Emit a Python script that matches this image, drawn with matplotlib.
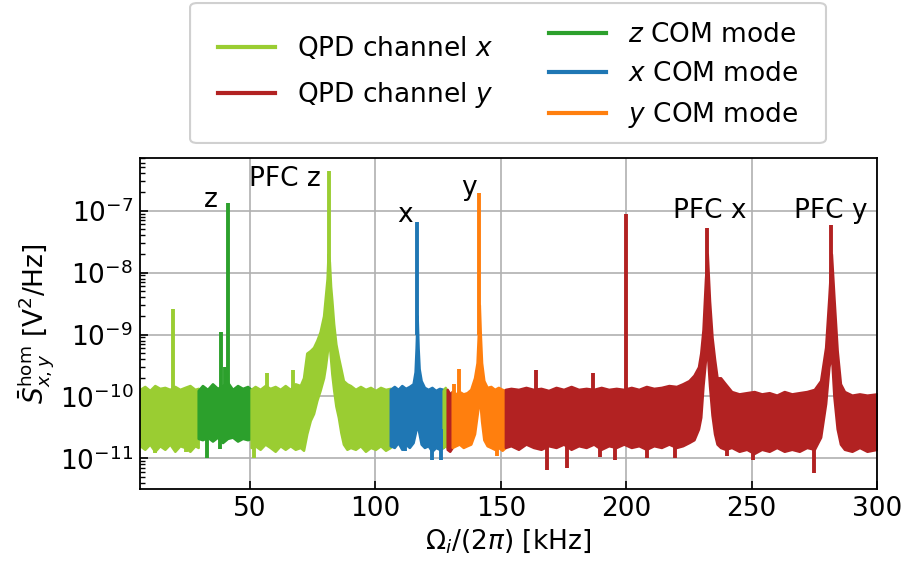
import matplotlib
matplotlib.use("Agg")
import matplotlib.pyplot as plt
from matplotlib.lines import Line2D
from matplotlib.patches import FancyBboxPatch

# ---------------- data ----------------
# noise-band envelopes per segment: frequency [kHz], upper and lower PSD [V^2/Hz]
qpdx_a_f = [6.1, 8, 10, 12, 14, 16, 18, 20, 22, 24, 26, 28, 29.3]
qpdx_a_hi = [1.3e-10, 1.45e-10, 1.25e-10, 1.5e-10, 1.35e-10, 1.4e-10, 1.3e-10,
             1.45e-10, 1.3e-10, 1.4e-10, 1.5e-10, 1.3e-10, 1.35e-10]
qpdx_a_lo = [1.6e-11, 1.4e-11, 1.7e-11, 1.3e-11, 1.6e-11, 1.4e-11, 1.7e-11,
             1.3e-11, 1.6e-11, 1.5e-11, 1.3e-11, 1.6e-11, 1.5e-11]

zcom_f = [29.3, 31, 33, 35, 37, 39, 41, 43, 45, 47, 49, 50.4]
zcom_hi = [1.25e-10, 1.5e-10, 1.3e-10, 1.6e-10, 1.35e-10, 1.5e-10, 1.7e-10,
           1.3e-10, 1.5e-10, 1.35e-10, 1.45e-10, 1.3e-10]
zcom_lo = [2.1e-11, 2.0e-11, 2.2e-11, 1.9e-11, 2.2e-11, 1.8e-11, 2.1e-11,
           2.2e-11, 1.9e-11, 2.1e-11, 2.0e-11, 2.1e-11]

qpdx_b_f = [50.4, 52, 54, 56, 58, 60, 62, 64, 66, 68, 70, 71.3, 72.6, 74, 75.3,
            76.6, 77.9, 79.3, 80.0, 80.7, 81.1, 81.6, 82.1, 82.6, 83.3, 84.2,
            85.2, 86.2, 87.2, 88.6, 90, 92, 94, 96, 98, 100, 102, 104, 105.9]
qpdx_b_hi = [1.3e-10, 1.45e-10, 1.3e-10, 1.5e-10, 1.35e-10, 1.45e-10, 1.3e-10,
             1.5e-10, 1.3e-10, 1.6e-10, 1.5e-10, 2.0e-10, 5.0e-10, 5.5e-10,
             6.2e-10, 8.0e-10, 1.1e-9, 2.0e-9, 4.0e-9, 8.0e-9, 2.0e-8, 1.5e-8,
             6.0e-9, 3.5e-9, 1.5e-9, 7.0e-10, 4.3e-10, 2.8e-10, 1.8e-10,
             1.6e-10, 1.5e-10, 1.3e-10, 1.45e-10, 1.3e-10, 1.4e-10, 1.25e-10,
             1.4e-10, 1.3e-10, 1.35e-10]
qpdx_b_lo = [1.5e-11, 1.6e-11, 1.4e-11, 1.7e-11, 1.5e-11, 1.3e-11, 1.6e-11,
             1.4e-11, 1.6e-11, 1.4e-11, 1.5e-11, 1.35e-11, 2.5e-11, 4.1e-11,
             5.3e-11, 8.6e-11, 1.25e-10, 2.0e-10, 3.0e-10, 5.0e-10, 7.0e-10,
             7.0e-10, 4.0e-10, 2.3e-10, 1.3e-10, 7.0e-11, 4.6e-11, 2.6e-11,
             1.7e-11, 1.4e-11, 1.5e-11, 1.4e-11, 1.6e-11, 1.3e-11, 1.5e-11,
             1.4e-11, 1.6e-11, 1.35e-11, 1.5e-11]

xcom_f = [105.9, 107.5, 109, 110.5, 112, 113.5, 115, 115.8, 116.2, 116.6, 117.0,
          117.4, 118.2, 119.5, 121, 122.5, 124, 125.5, 127.0]
xcom_hi = [1.3e-10, 1.45e-10, 1.3e-10, 1.5e-10, 1.35e-10, 1.45e-10, 1.6e-10,
           2.5e-10, 6.0e-10, 2.0e-9, 6.0e-10, 2.8e-10, 1.8e-10, 1.4e-10,
           1.3e-10, 1.4e-10, 1.25e-10, 1.35e-10, 1.3e-10]
xcom_lo = [1.6e-11, 1.5e-11, 1.8e-11, 1.4e-11, 1.7e-11, 1.5e-11, 1.8e-11,
           2.5e-11, 3.0e-11, 3.0e-11, 3.0e-11, 2.5e-11, 1.7e-11, 1.5e-11,
           1.6e-11, 1.3e-11, 1.5e-11, 1.4e-11, 1.5e-11]

qpdx_c_f = [127.0, 127.8, 128.6]
qpdx_c_hi = [1.25e-10, 1.4e-10, 1.2e-10]
qpdx_c_lo = [1.5e-11, 1.6e-11, 1.5e-11]

qpdy_a_f = [128.6, 129.6, 130.6]
qpdy_a_hi = [1.3e-10, 1.1e-10, 1.2e-10]
qpdy_a_lo = [1.4e-11, 1.3e-11, 1.5e-11]

ycom_f = [130.6, 132, 133.4, 135, 136.5, 138, 139.5, 140.5, 141.0, 141.4, 141.8,
          142.3, 143.2, 144.5, 146, 147.5, 149, 150.5, 151.8]
ycom_hi = [1.2e-10, 1.1e-10, 1.2e-10, 1.1e-10, 1.15e-10, 1.3e-10, 2.0e-10,
           3.5e-10, 1.0e-9, 3.0e-9, 1.0e-9, 3.5e-10, 1.8e-10, 1.4e-10,
           1.45e-10, 1.3e-10, 1.4e-10, 1.3e-10, 1.25e-10]
ycom_lo = [1.5e-11, 1.6e-11, 1.7e-11, 1.5e-11, 1.6e-11, 1.7e-11, 2.5e-11,
           5.0e-11, 7.0e-11, 8.0e-11, 7.0e-11, 4.0e-11, 2.0e-11, 1.6e-11,
           1.5e-11, 1.4e-11, 1.5e-11, 1.35e-11, 1.5e-11]

qpdy_b_f = [151.8, 154, 157, 160, 163, 166, 169, 172, 175, 178, 181, 184, 187,
            190, 193, 196, 199, 202, 205, 208, 211, 214, 217, 220, 222.5, 225,
            227, 228.8, 229.7, 230.6, 231.6, 232.3, 233.2, 234.2, 235.2, 236.2,
            237.6, 239.5, 242, 245, 248, 251, 254, 257, 260, 263, 266, 269, 272,
            275, 277.5, 279.5, 280.8, 281.8, 282.8, 284.1, 285.4, 287, 290, 293,
            296, 300]
qpdy_b_hi = [1.3e-10, 1.35e-10, 1.3e-10, 1.4e-10, 1.3e-10, 1.35e-10, 1.25e-10,
             1.4e-10, 1.3e-10, 1.45e-10, 1.3e-10, 1.35e-10, 1.3e-10, 1.4e-10,
             1.3e-10, 1.35e-10, 1.3e-10, 1.4e-10, 1.3e-10, 1.45e-10, 1.35e-10,
             1.4e-10, 1.5e-10, 1.45e-10, 1.6e-10, 1.8e-10, 2.2e-10, 3.0e-10,
             5.0e-10, 1.2e-9, 8.0e-9, 2.0e-8, 3.5e-9, 9.0e-10, 4.0e-10, 2.0e-10,
             2.0e-10, 1.6e-10, 1.2e-10, 1.1e-10, 1.15e-10, 1.2e-10, 1.1e-10,
             1.15e-10, 1.05e-10, 1.2e-10, 1.1e-10, 1.15e-10, 1.2e-10, 1.3e-10,
             1.8e-10, 6.2e-10, 4.0e-9, 2.0e-8, 4.0e-9, 5.5e-10, 1.6e-10,
             1.2e-10, 1.05e-10, 1.1e-10, 1.05e-10, 1.1e-10]
qpdy_b_lo = [1.5e-11, 1.6e-11, 1.4e-11, 1.7e-11, 1.5e-11, 1.4e-11, 1.6e-11,
             1.5e-11, 1.7e-11, 1.4e-11, 1.6e-11, 1.5e-11, 1.7e-11, 1.4e-11,
             1.6e-11, 1.5e-11, 1.7e-11, 1.5e-11, 1.6e-11, 1.4e-11, 1.6e-11,
             1.5e-11, 1.7e-11, 1.5e-11, 1.6e-11, 1.8e-11, 2.0e-11, 3.0e-11,
             4.6e-11, 1.5e-10, 4.0e-10, 5.5e-10, 1.5e-10, 5.0e-11, 2.5e-11,
             1.7e-11, 1.5e-11, 1.4e-11, 1.5e-11, 1.3e-11, 1.4e-11, 1.2e-11,
             1.4e-11, 1.3e-11, 1.5e-11, 1.3e-11, 1.4e-11, 1.3e-11, 1.5e-11,
             1.4e-11, 2.2e-11, 7.7e-11, 3.0e-10, 5.0e-10, 1.0e-10, 3.0e-11,
             1.7e-11, 1.4e-11, 1.3e-11, 1.5e-11, 1.3e-11, 1.4e-11]

# narrow lines / spikes: frequency [kHz], lower and upper PSD [V^2/Hz]
qpdx_spk_f = [19.3, 56.7, 67.3, 51.6, 12.0, 24.5, 81.3]
qpdx_spk_lo = [1e-10, 1e-10, 1e-10, 1.0e-11, 1.2e-11, 1.25e-11, 1e-9]
qpdx_spk_hi = [2.6e-9, 2.4e-10, 2.7e-10, 3e-11, 3e-11, 3e-11, 4.3e-7]

zcom_spk_f = [38.2, 39.8, 41.0, 32.7, 38.0]
zcom_spk_lo = [1e-10, 1e-10, 1e-10, 1.0e-11, 1.4e-11]
zcom_spk_hi = [1.1e-9, 3.0e-10, 1.35e-7, 3e-11, 3e-11]

xcom_spk_f = [116.6, 122.5, 126.2, 111.8]
xcom_spk_lo = [1e-9, 9.3e-12, 9.3e-12, 1.3e-11]
xcom_spk_hi = [6.6e-8, 3e-11, 3e-11, 3e-11]

ycom_spk_f = [141.4, 133.4, 131.5, 148.4]
ycom_spk_lo = [1e-9, 1e-10, 1e-10, 1.1e-11]
ycom_spk_hi = [1.95e-7, 2.8e-10, 1.6e-10, 3e-11]

qpdy_spk_f = [200.0, 232.3, 281.8, 164.0, 186.9, 168.4, 176.4, 189.7, 195.7,
              208.3, 219.6, 250.5, 274.7, 240.0]
qpdy_spk_lo = [1e-10, 1e-9, 1e-9, 1e-10, 1e-10, 6.4e-12, 6.9e-12, 1.05e-11,
               9.3e-12, 1.0e-11, 1.0e-11, 9.3e-12, 5.7e-12, 1.1e-11]
qpdy_spk_hi = [9.0e-8, 5.3e-8, 5.8e-8, 2.7e-10, 2.4e-10, 3e-11, 3e-11, 3e-11,
               3e-11, 3e-11, 3e-11, 3e-11, 3e-11, 3e-11]

# annotations
ann_labels = ["z", "PFC z", "x", "y", "PFC x", "PFC y"]
ann_f = [34.4, 64.0, 111.9, 137.4, 233.2, 281.4]
ann_v = [1.5e-7, 3.2e-7, 8.6e-8, 2.35e-7, 1.0e-7, 1.0e-7]

legend_labels = ["QPD channel $x$", "QPD channel $y$",
                 "$z$ COM mode", "$x$ COM mode", "$y$ COM mode"]

# ---------------- styling ----------------
C_QX = "#9acd32"
C_QY = "#b22222"
C_Z = "#2ca02c"
C_X = "#1f77b4"
C_Y = "#ff7f0e"

FS = 19
plt.rcParams["font.family"] = ["DejaVu Sans"]
plt.rcParams["mathtext.fontset"] = "dejavusans"

fig = plt.figure(figsize=(9.05, 5.62), dpi=100)
ax = fig.add_axes([0.1547, 0.1299, 0.8144, 0.589])

segments = [
    (qpdx_a_f, qpdx_a_lo, qpdx_a_hi, C_QX),
    (zcom_f, zcom_lo, zcom_hi, C_Z),
    (qpdx_b_f, qpdx_b_lo, qpdx_b_hi, C_QX),
    (xcom_f, xcom_lo, xcom_hi, C_X),
    (qpdx_c_f, qpdx_c_lo, qpdx_c_hi, C_QX),
    (qpdy_a_f, qpdy_a_lo, qpdy_a_hi, C_QY),
    (ycom_f, ycom_lo, ycom_hi, C_Y),
    (qpdy_b_f, qpdy_b_lo, qpdy_b_hi, C_QY),
]
for f, lo, hi, c in segments:
    ax.fill_between(f, lo, hi, facecolor=c, edgecolor=c, linewidth=1.8, zorder=2)

spikes = [
    (qpdx_spk_f, qpdx_spk_lo, qpdx_spk_hi, C_QX),
    (zcom_spk_f, zcom_spk_lo, zcom_spk_hi, C_Z),
    (xcom_spk_f, xcom_spk_lo, xcom_spk_hi, C_X),
    (ycom_spk_f, ycom_spk_lo, ycom_spk_hi, C_Y),
    (qpdy_spk_f, qpdy_spk_lo, qpdy_spk_hi, C_QY),
]
for f, lo, hi, c in spikes:
    ax.vlines(f, lo, hi, colors=c, linewidth=2.8, zorder=2)

for lab, f, v in zip(ann_labels, ann_f, ann_v):
    ax.text(f, v, lab, fontsize=FS, ha="center", va="center", zorder=3)

ax.set_yscale("log")
ax.set_xlim(6.1, 300)
ax.set_ylim(3.2e-12, 7.1e-7)
ax.set_xticks([50, 100, 150, 200, 250, 300])
ax.grid(True, which="major", color="#b0b0b0", linewidth=1.2, zorder=0)
ax.set_axisbelow(True)
ax.tick_params(which="both", direction="in", labelsize=FS, top=False, right=False)
ax.tick_params(which="major", length=6, width=1.2, pad=5)
ax.tick_params(which="minor", length=3.5, width=1.0)
for s in ax.spines.values():
    s.set_linewidth(1.3)

ax.set_xlabel(r"$\Omega_i/(2\pi)$ [kHz]", fontsize=FS, labelpad=4)
ax.set_ylabel(r"$\bar{S}_{x,y}^{\rm hom}$ [V$^2$/Hz]", fontsize=FS, labelpad=2)

# legend frame and two legend columns
box = FancyBboxPatch((0.21, 0.7456), 0.7027, 0.249,
                     boxstyle="round,pad=0,rounding_size=0.008",
                     transform=fig.transFigure, facecolor="white",
                     edgecolor="#d0d0d0", linewidth=1.5, zorder=0)
fig.patches.append(box)

h1 = [Line2D([], [], color=C_QX, lw=3), Line2D([], [], color=C_QY, lw=3)]
h2 = [Line2D([], [], color=C_Z, lw=3), Line2D([], [], color=C_X, lw=3),
      Line2D([], [], color=C_Y, lw=3)]
leg1 = fig.legend(h1, legend_labels[:2], loc="center left",
                  bbox_to_anchor=(0.2409, 0.8710), frameon=False, fontsize=FS,
                  borderpad=0, borderaxespad=0, handlelength=2.16,
                  handletextpad=0.83, labelspacing=0.70)
leg2 = fig.legend(h2, legend_labels[2:], loc="center left",
                  bbox_to_anchor=(0.6066, 0.8647), frameon=False, fontsize=FS,
                  borderpad=0, borderaxespad=0, handlelength=2.16,
                  handletextpad=0.83, labelspacing=0.50)

fig.savefig("out.png", dpi=100)
